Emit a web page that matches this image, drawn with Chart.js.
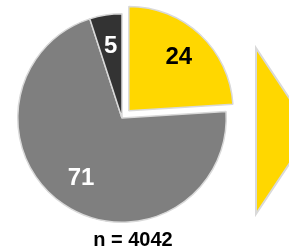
<!DOCTYPE html>
<html>
<head>
<meta charset="utf-8">
<script src="https://cdn.jsdelivr.net/npm/chart.js@4"></script>
<style>
  html, body { margin: 0; padding: 0; background: #fff; }
  #wrap { position: relative; width: 289px; height: 250px; overflow: hidden; }
  #chartBox { position: absolute; left: -10px; top: -10px; width: 299px; height: 263px; }
  #arrow { position: absolute; left: 0; top: 0; }
  #note {
    position: absolute; left: 0; width: 266px; top: 228px;
    text-align: center; font: bold 20px "Liberation Sans", Arial, sans-serif; color: #000;
  }
</style>
</head>
<body>
<div id="wrap">
  <div id="chartBox"><canvas id="pieChart"></canvas></div>
  <svg id="arrow" width="289" height="250">
    <polygon points="256,48 311,131 256,214" fill="#FFD700" stroke="#d9d9d9" stroke-width="2"/>
  </svg>
  <div id="note">n = 4042</div>
</div>
<script>
const categories = ["Ja", "Nein", "Keine Angabe"];
const shares = [24, 71, 5];
const sliceColors = ["#FFD700", "#7f7f7f", "#333333"];
const labelColors = ["#000000", "#ffffff", "#ffffff"];
const sliceOffsets = [40, 0, 0];

// chart.js v4 moves an offset slice by offset/4, so do the same for the labels
const sliceLabels = {
    id: "sliceLabels",
    afterDatasetsDraw(chart) {
        const ctx = chart.ctx;
        const meta = chart.getDatasetMeta(0);
        ctx.save();
        ctx.font = "bold 24px 'Liberation Sans', Arial, sans-serif";
        ctx.textAlign = "center";
        ctx.textBaseline = "middle";
        meta.data.forEach((arc, i) => {
            const p = arc.getProps(["x", "y", "startAngle", "endAngle", "outerRadius"], true);
            const mid = (p.startAngle + p.endAngle) / 2;
            const off = (arc.options.offset || 0) / 4;
            const r = p.outerRadius * 0.7;
            const lx = p.x + Math.cos(mid) * (off + r);
            const ly = p.y + Math.sin(mid) * (off + r);
            ctx.fillStyle = labelColors[i];
            ctx.fillText(String(shares[i]), lx, ly);
        });
        ctx.restore();
    },
};

new Chart(document.getElementById("pieChart"), {
    type: "pie",
    data: {
        labels: categories,
        datasets: [
            {
                data: shares,
                backgroundColor: sliceColors,
                borderColor: "#d9d9d9",
                borderWidth: 1.5,
                offset: sliceOffsets,
            },
        ],
    },
    options: {
        responsive: true,
        maintainAspectRatio: false,
        animation: false,
        layout: {
            padding: { left: 7, right: 42, top: 3, bottom: 10 },
        },
        plugins: {
            legend: { display: false },
            tooltip: { enabled: false },
        },
    },
    plugins: [sliceLabels],
});
</script>
</body>
</html>
